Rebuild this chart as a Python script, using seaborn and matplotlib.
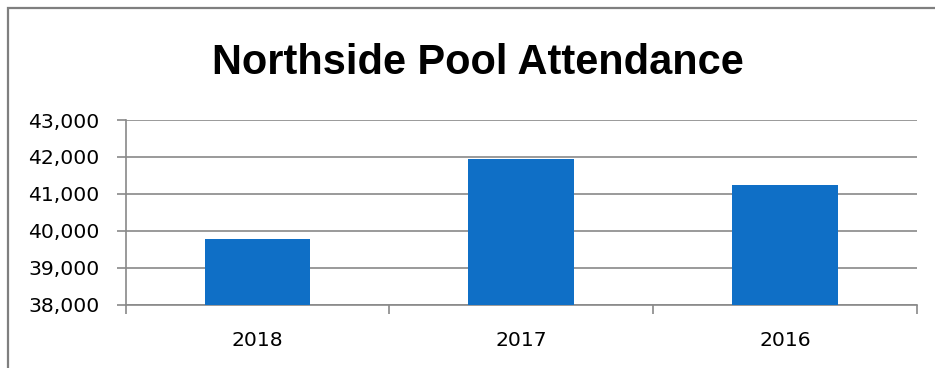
import matplotlib
matplotlib.use("Agg")
import matplotlib.pyplot as plt
from matplotlib.lines import Line2D
from matplotlib.ticker import FuncFormatter, FixedLocator
import seaborn as sns
import pandas as pd

# Season attendance per year
years = ["2018", "2017", "2016"]
attendance = [39785, 41945, 41235]
title = "Northside Pool Attendance"
y_min, y_max, y_step = 38000, 43000, 1000

BAR_BLUE = "#0F6FC6"
LINE_GREY = "#898989"
FRAME_GREY = "#7F7F7F"

sns.set_style("white")
plt.rcParams["font.family"] = ["DejaVu Sans"]

W, H = 935, 368
fig = plt.figure(figsize=(W / 100, H / 100), dpi=100)
ax = fig.add_axes([125.7 / W, 1 - 304.5 / H, (916.7 - 125.7) / W, (304.5 - 120) / H])

df = pd.DataFrame({"year": years, "attendance": attendance})
sns.barplot(data=df, x="year", y="attendance", order=years, color=BAR_BLUE,
            saturation=1, width=0.4, ax=ax, zorder=3,
            edgecolor="none", linewidth=0)

ax.set_xlim(-0.5, len(years) - 0.5)
ax.set_ylim(y_min, y_max)
ax.set_yticks(range(y_min, y_max + 1, y_step))
ax.yaxis.set_major_formatter(FuncFormatter(lambda v, p: f"{int(v):,}"))
ax.set_xlabel("")
ax.set_ylabel("")

# horizontal gridlines behind the bars
ax.grid(axis="y", color=LINE_GREY, linewidth=1.2, zorder=0)
ax.grid(axis="x", visible=False)
ax.set_axisbelow(True)

for side in ("top", "right"):
    ax.spines[side].set_visible(False)
for side in ("left", "bottom"):
    ax.spines[side].set_color(LINE_GREY)
    ax.spines[side].set_linewidth(1.2)

# category divider ticks on the x axis
ax.xaxis.set_minor_locator(FixedLocator([i - 0.5 for i in range(len(years) + 1)]))
ax.tick_params(axis="x", which="minor", bottom=True, length=6.5, width=1.2,
               color=LINE_GREY, direction="out")
ax.tick_params(axis="x", which="major", bottom=True, length=0, pad=19,
               labelsize=14.7, labelcolor="black")
ax.tick_params(axis="y", which="major", left=True, length=6.5, width=1.2, color=LINE_GREY,
               direction="out", pad=12.5, labelsize=14.7, labelcolor="black")

# title sized to span 532 px
title_text = fig.text(478 / W, 1 - 74 / H, title, ha="center", va="baseline",
                      fontsize=30, fontweight="bold", color="black",
                      family=["Liberation Sans", "DejaVu Sans"])
fig.canvas.draw()
renderer = fig.canvas.get_renderer()
tw = title_text.get_window_extent(renderer).width
title_text.set_fontsize(30 * 532 / tw)

# chart frame
fig.add_artist(Line2D([8 / W, 8 / W, 1.0], [0.0, 1 - 8 / H, 1 - 8 / H],
                      transform=fig.transFigure, color=FRAME_GREY, linewidth=1.6,
                      solid_capstyle="butt", solid_joinstyle="miter"))

fig.savefig("out.png", dpi=100, facecolor="white")
